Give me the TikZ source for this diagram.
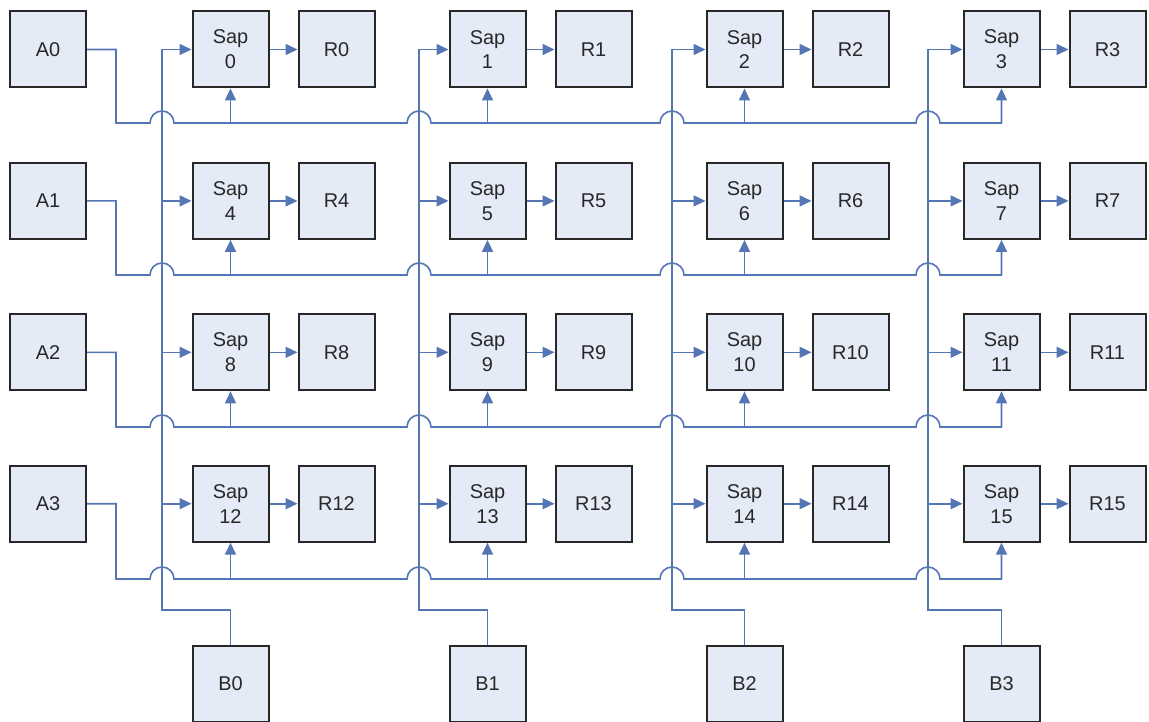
\documentclass[tikz,border=0pt]{standalone}
\usepackage{fontspec}
\setmainfont{Liberation Sans}
\usetikzlibrary{arrows.meta}
\definecolor{wireblue}{RGB}{84,118,180}
\definecolor{boxfill}{RGB}{228,234,246}
\definecolor{boxedge}{RGB}{40,40,40}
\definecolor{ink}{RGB}{40,40,40}
\tikzset{
  cell/.style={draw=boxedge, fill=boxfill, line width=2bp,
    minimum width=76bp, minimum height=76bp, inner sep=0pt,
    align=center, text=ink, font=\fontsize{20}{25}\selectfont},
  wire/.style={draw=wireblue, line width=1.6bp},
  feed/.style={wire, -{Triangle[length=12bp,width=11bp]}},
}
\begin{document}
\begin{tikzpicture}[x=1bp,y=-1bp]
\fill[white] (0,0) rectangle (1149,722);
\useasboundingbox (0,0) rectangle (1149,722);

% grid of Sap cells with their result boxes, and the A inputs
\foreach \r in {0,...,3} {
  \pgfmathsetmacro{\yc}{49.5+151.4*\r}
  \node[cell] (A\r) at (48,\yc) {A\r};
  \foreach \c in {0,...,3} {
    \pgfmathtruncatemacro{\n}{4*\r+\c}
    \node[cell] (S\n) at (230.5+257*\c,\yc) {Sap\\\n};
    \node[cell] (R\n) at (336.5+257*\c,\yc) {R\n};
    \draw[feed] (S\n) -- (R\n);
  }
}

% B inputs: each feeds one column from the left
\foreach \c/\vx in {0/162,1/419,2/672,3/928} {
  \node[cell] (B\c) at (230.5+257*\c,684) {B\c};
  \coordinate (turn\c) at (\vx,610);
  \draw[feed] (B\c.north) -- (B\c.north |- turn\c) -- (turn\c)
    -- (turn\c |- S\c.west) -- (S\c.west);
  \foreach \r in {1,2,3} {
    \pgfmathtruncatemacro{\n}{4*\r+\c}
    \draw[feed] (turn\c |- S\n.west) -- (S\n.west);
  }
}

% A buses: run under each row, hopping over the B lines
\foreach \r in {0,...,3} {
  \pgfmathsetmacro{\yb}{123+152*\r}
  \pgfmathtruncatemacro{\m}{4*\r+3}
  \coordinate (bus\r) at (0,\yb);
  \draw[feed] (A\r.east) -- (116,0 |- A\r.east) -- (116,\yb)
    -- (150,\yb) arc[start angle=180,end angle=0,radius=12bp]
    -- (407,\yb) arc[start angle=180,end angle=0,radius=12bp]
    -- (660,\yb) arc[start angle=180,end angle=0,radius=12bp]
    -- (916,\yb) arc[start angle=180,end angle=0,radius=12bp]
    -- (S\m.south |- bus\r) -- (S\m.south);
  \foreach \c in {0,1,2} {
    \pgfmathtruncatemacro{\n}{4*\r+\c}
    \draw[feed] (S\n.south |- bus\r) -- (S\n.south);
  }
}
\end{tikzpicture}
\end{document}
